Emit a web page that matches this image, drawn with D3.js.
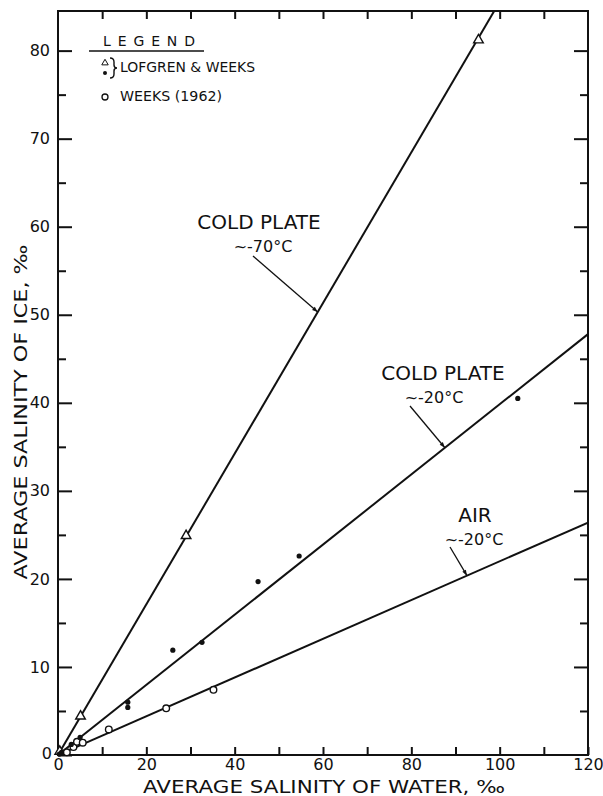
<!DOCTYPE html>
<html>
<head>
<meta charset="utf-8">
<script src="https://cdn.jsdelivr.net/npm/d3@7"></script>
<style>
  html, body { margin: 0; padding: 0; background: #fff; }
  svg { display: block; }
  text { font-family: "DejaVu Sans", sans-serif; fill: #111; }
</style>
</head>
<body>
<div id="chart"></div>
<script>
// fitted lines (endpoints in data units)
const coldPlate70Line = [[0, 0], [99, 84.7]];
const coldPlate20Line = [[0, 0], [120, 47.8]];
const air20Line = [[0, 0], [120, 26.4]];

// Lofgren & Weeks, cold plate ~-70C (triangles)
const lofgrenTriangles = [[0.4, 0.4], [5.1, 4.4], [29, 24.9], [95.2, 81.2]];
// Lofgren & Weeks, cold plate ~-20C (dots)
const lofgrenDots = [[0.3, 0.1], [0.8, 0.3], [3, 1.2], [5, 2.0], [15.8, 5.4], [15.8, 6.0],
  [26, 11.9], [32.6, 12.8], [45.3, 19.7], [54.6, 22.6], [104.1, 40.5]];
// Weeks (1962), air (open circles)
const weeksCircles = [[2, 0.3], [3.5, 0.9], [4.3, 1.5], [5.6, 1.4], [11.5, 2.9], [24.5, 5.3], [35.2, 7.4]];

const xTicks = [0, 20, 40, 60, 80, 100, 120];
const xMinorTicks = [10, 30, 50, 70, 90, 110];
const yTicks = [0, 10, 20, 30, 40, 50, 60, 70, 80];
const yMinorTicks = [5, 15, 25, 35, 45, 55, 65, 75];

const annotTitles = ["COLD PLATE", "COLD PLATE", "AIR"];
const annotTemps = ["~-70°C", "~-20°C", "~-20°C"];
const annotLineX = [58.8, 87.6, 92.6];

const width = 603, height = 796;
const plot = { left: 58, right: 588, top: 11, bottom: 755 };

const svg = d3.select("#chart").append("svg").attr("width", width).attr("height", height);

const x = d3.scaleLinear().domain([0, 120]).range([plot.left, plot.right]);
const y = d3.scaleLinear().domain([0, 84.5]).range([plot.bottom, plot.top]);

svg.append("defs").append("clipPath").attr("id", "clip")
  .append("rect").attr("x", plot.left).attr("y", plot.top)
  .attr("width", plot.right - plot.left).attr("height", plot.bottom - plot.top);

function styleAxis(g) {
  g.select(".domain").remove();
  g.selectAll("line").attr("stroke", "#111").attr("stroke-width", 2);
  g.selectAll("text").style("font-size", "16px").style("fill", "#111");
}

// bottom axis
svg.append("g").attr("transform", `translate(0,${plot.bottom})`)
  .call(d3.axisBottom(x).tickValues(xTicks.concat(xMinorTicks)).tickSize(-8).tickPadding(4)
    .tickFormat(d => xTicks.includes(d) ? d : ""))
  .call(styleAxis);
// top axis
svg.append("g").attr("transform", `translate(0,${plot.top})`)
  .call(d3.axisTop(x).tickValues(xTicks.concat(xMinorTicks).filter(d => d > 0 && d < 120)).tickSize(-8).tickFormat(""))
  .call(styleAxis);
// left axis
svg.append("g").attr("transform", `translate(${plot.left},0)`)
  .call(d3.axisLeft(y).tickValues(yTicks).tickSize(-14).tickPadding(8).tickFormat(d => d === 0 ? "" : d))
  .call(styleAxis);
svg.append("g").attr("transform", `translate(${plot.left},0)`)
  .call(d3.axisLeft(y).tickValues(yMinorTicks).tickSize(-8).tickFormat(""))
  .call(styleAxis);
// y "0" label sits a bit lower, at the corner
svg.append("text").attr("x", plot.left - 6).attr("y", plot.bottom + 4)
  .attr("text-anchor", "end").style("font-size", "16px").text("0");
// right axis
svg.append("g").attr("transform", `translate(${plot.right},0)`)
  .call(d3.axisRight(y).tickValues(yTicks.filter(d => d > 0)).tickSize(-14).tickFormat(""))
  .call(styleAxis);
svg.append("g").attr("transform", `translate(${plot.right},0)`)
  .call(d3.axisRight(y).tickValues(yMinorTicks).tickSize(-8).tickFormat(""))
  .call(styleAxis);

// frame
svg.append("rect").attr("x", plot.left).attr("y", plot.top)
  .attr("width", plot.right - plot.left).attr("height", plot.bottom - plot.top)
  .attr("fill", "none").attr("stroke", "#111").attr("stroke-width", 2);

// fitted lines
const line = d3.line().x(d => x(d[0])).y(d => y(d[1]));
const lines = [coldPlate70Line, coldPlate20Line, air20Line];
svg.append("g").attr("clip-path", "url(#clip)").selectAll("path").data(lines).enter().append("path")
  .attr("d", line).attr("fill", "none").attr("stroke", "#111").attr("stroke-width", 2);

// markers
const tri = d3.symbol().type(d3.symbolTriangle).size(40);
svg.append("g").selectAll("path").data(lofgrenTriangles).enter().append("path")
  .attr("d", tri).attr("transform", d => `translate(${x(d[0])},${y(d[1])})`)
  .attr("fill", "#fff").attr("stroke", "#111").attr("stroke-width", 1.4);
svg.append("g").selectAll("circle").data(weeksCircles).enter().append("circle")
  .attr("cx", d => x(d[0])).attr("cy", d => y(d[1])).attr("r", 3.3)
  .attr("fill", "#fff").attr("stroke", "#111").attr("stroke-width", 1.4);
svg.append("g").selectAll("circle").data(lofgrenDots).enter().append("circle")
  .attr("cx", d => x(d[0])).attr("cy", d => y(d[1])).attr("r", 2.6).attr("fill", "#111");

// annotations
const lineSlope = lines.map(l => l[1][1] / l[1][0]);
const annotLayout = [
  { tx: 259, ty: 229, sx: 263, sy: 252, lx: 253, ly: 256 },
  { tx: 443, ty: 380, sx: 434, sy: 403, lx: 410, ly: 406 },
  { tx: 475, ty: 522, sx: 474, sy: 545, lx: 450, ly: 547 }
];
annotTitles.forEach((t, i) => {
  const a = annotLayout[i];
  svg.append("text").attr("x", a.tx).attr("y", a.ty).attr("text-anchor", "middle")
    .style("font-size", "20px").text(t);
  svg.append("text").attr("x", a.sx).attr("y", a.sy).attr("text-anchor", "middle")
    .style("font-size", "16px").text(annotTemps[i]);
  const px = x(annotLineX[i]), py = y(annotLineX[i] * lineSlope[i]);
  svg.append("line").attr("x1", a.lx).attr("y1", a.ly).attr("x2", px).attr("y2", py)
    .attr("stroke", "#111").attr("stroke-width", 1.3);
  const ang = Math.atan2(py - a.ly, px - a.lx);
  const ah = 6, aw = 0.35;
  svg.append("path").attr("d", `M${px},${py}L${px - ah * Math.cos(ang - aw)},${py - ah * Math.sin(ang - aw)}L${px - ah * Math.cos(ang + aw)},${py - ah * Math.sin(ang + aw)}Z`)
    .attr("fill", "#111");
});

// legend
svg.append("text").attr("x", 103).attr("y", 46).attr("textLength", 92).attr("lengthAdjust", "spacing")
  .style("font-size", "14px").text("LEGEND");
svg.append("line").attr("x1", 89).attr("x2", 204).attr("y1", 51).attr("y2", 51)
  .attr("stroke", "#111").attr("stroke-width", 1.5);
svg.append("path").attr("d", d3.symbol().type(d3.symbolTriangle).size(18))
  .attr("transform", "translate(105,63)").attr("fill", "#fff").attr("stroke", "#111").attr("stroke-width", 1);
svg.append("circle").attr("cx", 105).attr("cy", 73).attr("r", 2).attr("fill", "#111");
// curly brace drawn as a path
svg.append("path")
  .attr("d", "M110,58 Q114,58 114,62 L114,65 Q114,68 117,68 Q114,68 114,71 L114,74 Q114,78 110,78")
  .attr("fill", "none").attr("stroke", "#111").attr("stroke-width", 1.4);
svg.append("text").attr("x", 120).attr("y", 72).attr("textLength", 135).attr("lengthAdjust", "spacingAndGlyphs")
  .style("font-size", "14px").text("LOFGREN & WEEKS");
svg.append("circle").attr("cx", 105).attr("cy", 97).attr("r", 3).attr("fill", "#fff")
  .attr("stroke", "#111").attr("stroke-width", 1.3);
svg.append("text").attr("x", 120).attr("y", 101).attr("textLength", 102).attr("lengthAdjust", "spacingAndGlyphs")
  .style("font-size", "14px").text("WEEKS (1962)");

// axis titles
svg.append("text").attr("x", 324).attr("y", 793).attr("text-anchor", "middle")
  .attr("textLength", 362).attr("lengthAdjust", "spacingAndGlyphs")
  .style("font-size", "18px").text("AVERAGE SALINITY OF WATER, ‰");
svg.append("text").attr("transform", "translate(27,412) rotate(-90)").attr("text-anchor", "middle")
  .attr("textLength", 335).attr("lengthAdjust", "spacingAndGlyphs")
  .style("font-size", "18px").text("AVERAGE SALINITY OF ICE, ‰");
</script>
</body>
</html>
